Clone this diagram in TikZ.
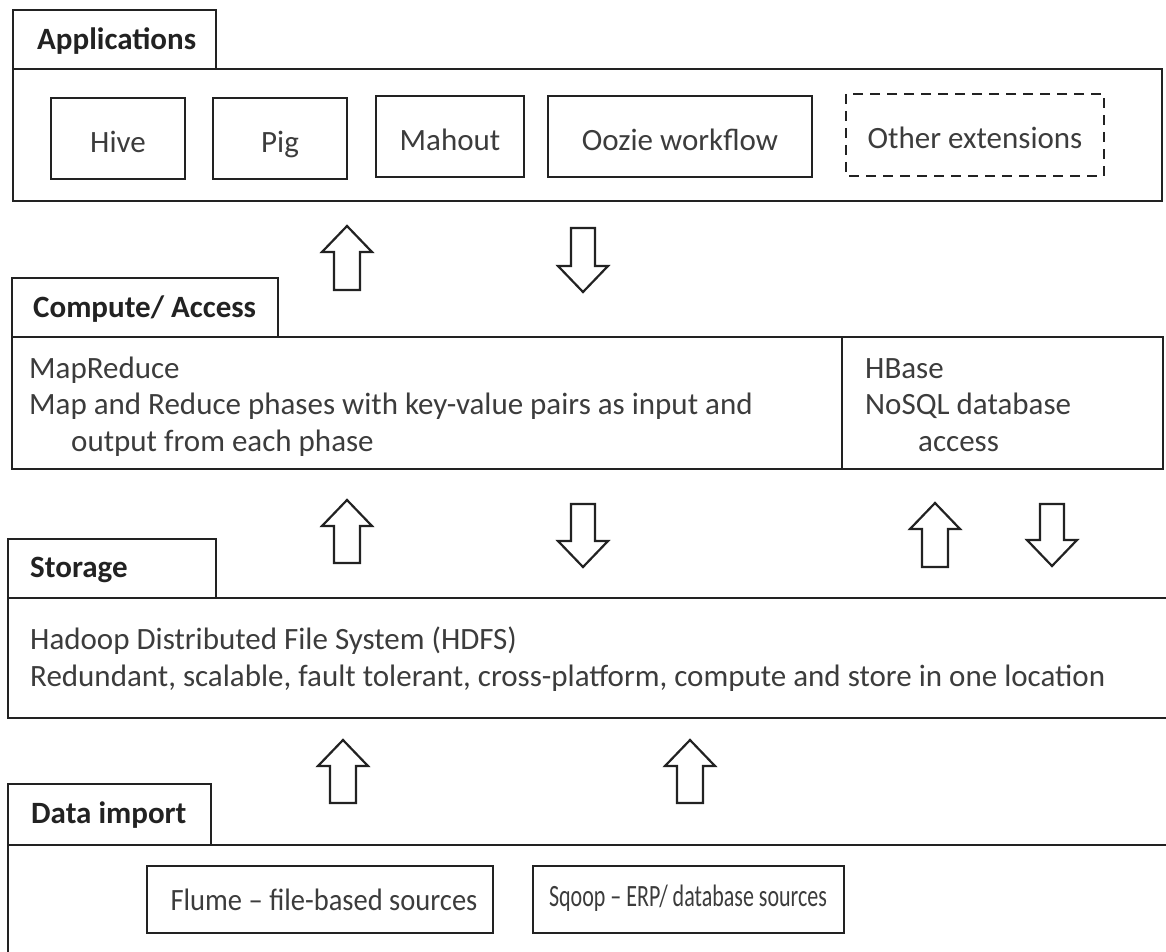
\documentclass[tikz,border=0pt]{standalone}
\usepackage{fontspec}
\setmainfont{Carlito}
\definecolor{linec}{HTML}{222222}
\definecolor{textc}{HTML}{3C3C3C}
\newcommand\blkup[3]{% center x, top y, bottom y
  \draw[blockarr] (#1,#2) -- (#1+25,#2+26) -- (#1+13,#2+26) -- (#1+13,#3) -- (#1-13,#3) -- (#1-13,#2+26) -- (#1-25,#2+26) -- cycle;}
\newcommand\blkdown[3]{% center x, top y, bottom y
  \draw[blockarr] (#1,#3) -- (#1+25,#3-26) -- (#1+12,#3-26) -- (#1+12,#2) -- (#1-12,#2) -- (#1-12,#3-26) -- (#1-25,#3-26) -- cycle;}
\begin{document}
\begin{tikzpicture}[x=1pt,y=-1pt,
  frame/.style={draw=linec,line width=2.6pt},
  blockarr/.style={draw=linec,line width=2.2pt,fill=white,line join=miter},
  tabtxt/.style={anchor=base west,inner sep=0pt,text=linec,font=\fontsize{31}{37}\selectfont\bfseries},
  bodytxt/.style={anchor=base west,inner sep=0pt,text=textc,font=\fontsize{31}{37}\selectfont},
  itemtxt/.style={anchor=base,inner sep=0pt,text=textc,font=\fontsize{31}{37}\selectfont}]
\useasboundingbox (0,0) rectangle (1166,952);
% ---------- Applications ----------
\draw[frame] (13,10) rectangle (216,69);
\draw[frame] (13,69) rectangle (1162,201);
\node[tabtxt] (appl) at (37,50) {Applications};
\draw[frame] (51,98) rectangle (185,179);
\node[itemtxt] (hive) at (118,153) {Hive};
\draw[frame] (213,98) rectangle (347,179);
\node[itemtxt] (pig) at (280,153) {Pig};
\draw[frame] (376,96) rectangle (524,177);
\node[itemtxt] (mahout) at (450,151) {Mahout};
\draw[frame] (548,96) rectangle (812,177);
\node[itemtxt] (oozie) at (680,151) {Oozie workflow};
\draw[frame,dash pattern=on 10pt off 7pt] (846,94) rectangle (1104,176);
\node[itemtxt] (other) at (975,149) {Other extensions};
% arrows apps/compute
\blkup{347}{226}{290}
\blkdown{583}{228}{292}
% ---------- Compute / Access ----------
\draw[frame] (12,278) rectangle (278,337);
\draw[frame] (12,337) rectangle (1163,469);
\draw[frame] (842,337) -- (842,469);
\node[tabtxt] (comp) at (33,317) {Compute/ Access};
\node[bodytxt] (mr1) at (29,378) {MapReduce};
\node[bodytxt] (mr2) at (29,414) {Map and Reduce phases with key-value pairs as input and};
\node[bodytxt] (mr3) at (71,451) {output from each phase};
\node[bodytxt] (hb1) at (865,378) {HBase};
\node[bodytxt] (hb2) at (865,414) {NoSQL database};
\node[bodytxt] (hb3) at (918,451) {access};
% arrows compute/storage
\blkup{347}{500}{563}
\blkdown{583}{504}{567}
\blkup{935}{503}{567}
\blkdown{1052}{504}{566}
% ---------- Storage ----------
\draw[frame] (8,539) rectangle (216,598);
\draw[frame] (1168,598) -- (8,598) -- (8,718) -- (1168,718);
\node[tabtxt] (stor) at (30,577) {Storage};
\node[bodytxt] (hd1) at (30,649) {Hadoop Distributed File System (HDFS)};
\node[bodytxt] (hd2) at (30,686) {Redundant, scalable, fault tolerant, cross-platform, compute and store in one location};
% arrows storage/import
\blkup{343}{740}{803}
\blkup{690}{740}{803}
% ---------- Data import ----------
\draw[frame] (8,784) rectangle (211,845);
\draw[frame] (1168,845) -- (8,845) -- (8,956);
\node[tabtxt] (dimp) at (31,823) {Data import};
\draw[frame] (147,866) rectangle (493,933);
\node[itemtxt] (flume) at (324,910) {\scalebox{0.92}[1]{Flume -- file-based sources}};
\draw[frame] (533,866) rectangle (844,933);
\node[itemtxt] (sqoop) at (688,906) {\scalebox{0.71}[1]{Sqoop -- ERP/ database sources}};
\end{tikzpicture}
\end{document}
